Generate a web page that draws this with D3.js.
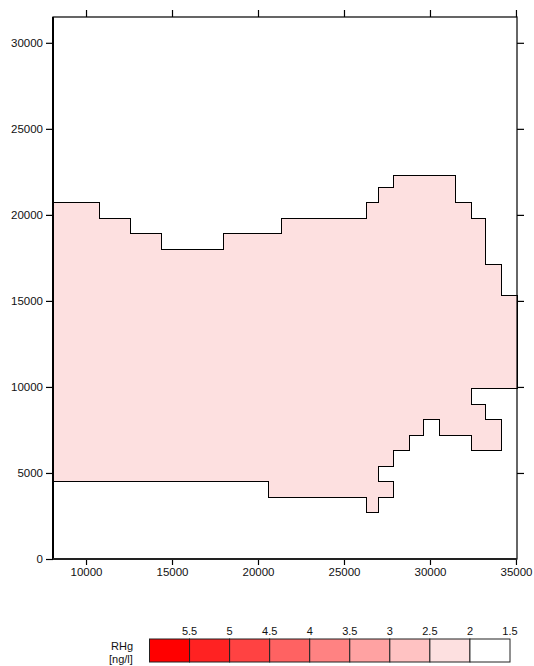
<!DOCTYPE html>
<html>
<head>
<meta charset="utf-8">
<script src="https://cdn.jsdelivr.net/npm/d3@7"></script>
<style>
  html, body { margin: 0; padding: 0; background: #fff; }
  svg { display: block; }
  text { font-family: "Liberation Sans", Arial, sans-serif; fill: #111; }
</style>
</head>
<body>
<svg id="chart" width="534" height="666"></svg>
<script>
// Axis extents and tick values
const xDomain = [8080, 35060];
const yDomain = [0, 31500];
const xTicks = [10000, 15000, 20000, 25000, 30000, 35000];
const yTicks = [0, 5000, 10000, 15000, 20000, 25000, 30000];

// Outline of the 2 - 2.5 ng/l RHg zone (distance x, depth y), traced clockwise
const zoneX = [8080, 10800, 10800, 12600, 12600, 14400, 14400, 18000, 18000, 21350, 21350,
  26300, 26300, 27000, 27000, 27900, 27900, 31500, 31500, 32400, 32400, 33250, 33250,
  34150, 34150, 35060, 35060, 32400, 32400, 33250, 33250, 34150, 34150, 32400, 32400,
  30550, 30550, 29650, 29650, 28800, 28800, 27900, 27900, 27000, 27000, 27900, 27900,
  27000, 27000, 26300, 26300, 20600, 20600, 8080];
const zoneY = [20700, 20700, 19800, 19800, 18900, 18900, 18000, 18000, 18900, 18900, 19800,
  19800, 20700, 20700, 21600, 21600, 22300, 22300, 20700, 20700, 19800, 19800, 17100,
  17100, 15300, 15300, 9900, 9900, 9000, 9000, 8100, 8100, 6300, 6300, 7200,
  7200, 8100, 8100, 7200, 7200, 6300, 6300, 5400, 5400, 4500, 4500, 3600,
  3600, 2700, 2700, 3600, 3600, 4500, 4500];

// Colour classes of the legend (upper bounds first)
const legendColors = ["#ff0000", "#ff2222", "#ff4242", "#ff6262", "#ff8282",
  "#ffa2a2", "#ffc2c2", "#fde0e0", "#ffffff"];
const legendLabels = ["5.5", "5", "4.5", "4", "3.5", "3", "2.5", "2", "1.5"];
const zoneColor = legendColors[7];

const svg = d3.select("#chart");
const plot = { left: 53, right: 517, top: 17, bottom: 559 };

const x = d3.scaleLinear().domain(xDomain).range([plot.left, plot.right]);
const y = d3.scaleLinear().domain(yDomain).range([plot.bottom, plot.top]);

// Zone polygon
const pts = zoneX.map((v, i) => [x(v), y(zoneY[i])]);
svg.append("path")
  .attr("d", d3.line()(pts) + "Z")
  .attr("fill", zoneColor)
  .attr("stroke", "#000")
  .attr("stroke-width", 1)
  .attr("shape-rendering", "crispEdges");

// Axes
const fontSize = "11.5px";
const gL = svg.append("g").attr("transform", `translate(${plot.left},0)`)
  .call(d3.axisLeft(y).tickValues(yTicks).tickFormat(d3.format("d")).tickSize(7).tickPadding(3));
const gR = svg.append("g").attr("transform", `translate(${plot.right},0)`)
  .call(d3.axisRight(y).tickValues(yTicks.filter(d => d > 0)).tickFormat("").tickSize(7));
const gB = svg.append("g").attr("transform", `translate(0,${plot.bottom})`)
  .call(d3.axisBottom(x).tickValues(xTicks).tickFormat(d3.format("d")).tickSize(6).tickPadding(3));
const gT = svg.append("g").attr("transform", `translate(0,${plot.top})`)
  .call(d3.axisTop(x).tickValues(xTicks).tickFormat("").tickSize(7));

[gL, gR, gB, gT].forEach(g => {
  g.select(".domain").remove();
  g.selectAll("line").attr("stroke", "#000").attr("stroke-width", 1.2);
  g.selectAll("text").attr("font-size", fontSize).attr("fill", "#111")
    .attr("font-family", "'Liberation Sans', Arial, sans-serif");
});

// Frame
svg.append("rect")
  .attr("x", plot.left).attr("y", plot.top)
  .attr("width", plot.right - plot.left).attr("height", plot.bottom - plot.top)
  .attr("fill", "none").attr("stroke", "#000").attr("stroke-width", 1.2);
svg.append("line").attr("x1", plot.left).attr("x2", plot.left)
  .attr("y1", plot.top).attr("y2", plot.bottom).attr("stroke", "#000").attr("stroke-width", 2);
svg.append("line").attr("x1", plot.left).attr("x2", plot.right)
  .attr("y1", plot.bottom).attr("y2", plot.bottom).attr("stroke", "#222").attr("stroke-width", 2);

// Legend
const leg = { left: 149.5, right: 510, top: 639, height: 23 };
const lx = d3.scaleLinear().domain([0, legendColors.length]).range([leg.left, leg.right]);
const lg = svg.append("g");
lg.selectAll("rect").data(legendColors).join("rect")
  .attr("x", (d, i) => lx(i)).attr("y", leg.top)
  .attr("width", (d, i) => lx(i + 1) - lx(i)).attr("height", leg.height)
  .attr("fill", d => d).attr("stroke", "#222").attr("stroke-width", 1);
lg.selectAll("text").data(legendLabels).join("text")
  .attr("x", (d, i) => lx(i + 1)).attr("y", 635)
  .attr("text-anchor", "middle").attr("font-size", "11px").text(d => d);
lg.append("text").attr("x", 111).attr("y", 650).attr("font-size", "11px").text("RHg");
lg.append("text").attr("x", 109).attr("y", 663).attr("font-size", "11px").text("[ng/l]");
</script>
</body>
</html>
